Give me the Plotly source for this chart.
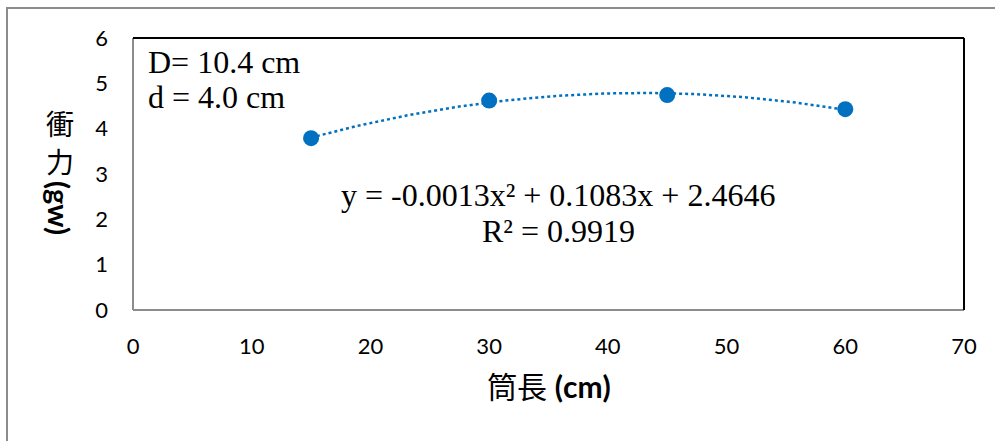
import numpy as np
import plotly.graph_objects as go

# Data
tube_length = [15, 30, 45, 60]          # 筒長 (cm)
force = [3.79, 4.62, 4.74, 4.43]        # 衝力 (gw)
x_ticks = [0, 10, 20, 30, 40, 50, 60, 70]
y_ticks = [0, 1, 2, 3, 4, 5, 6]

W, H = 995, 441
L, R, T, B = 133, 964, 38, 310  # plot area pixel box
pw, ph = R - L, B - T

def px(xp):
    return (xp - L) / pw

def py(yp):
    return (B - yp) / ph

BLUE = "#0070C0"
coef = np.polyfit(tube_length, force, 2)
xs = np.linspace(min(tube_length), max(tube_length), 120)
ys = np.polyval(coef, xs)

fig = go.Figure()
fig.add_trace(go.Scatter(x=xs, y=ys, mode="lines",
                         line=dict(color=BLUE, width=2.5, dash="dot"),
                         hoverinfo="skip", showlegend=False))
fig.add_trace(go.Scatter(x=tube_length, y=force, mode="markers",
                         marker=dict(color=BLUE, size=16),
                         showlegend=False))

tickfont = dict(family="Lato, Open Sans, sans-serif", size=22, color="#000")
fig.update_xaxes(range=[0, 70], tickvals=x_ticks, ticktext=[str(v) for v in x_ticks],
                 showgrid=False, zeroline=False, showline=False, ticks="",
                 tickfont=tickfont, ticklabelstandoff=21)
fig.update_yaxes(range=[0, 6], tickvals=y_ticks, ticktext=[str(v) for v in y_ticks],
                 showgrid=False, zeroline=False, showline=False, ticks="",
                 tickfont=tickfont, ticklabelstandoff=24)

shapes = [
    # outer chart border (top & left visible)
    dict(type="rect", xref="paper", yref="paper",
         x0=px(7), x1=px(1010), y0=py(460), y1=py(8),
         line=dict(color="#8c8c8c", width=2), layer="below"),
    # plot area borders
    dict(type="line", xref="paper", yref="paper", x0=0, x1=0, y0=0, y1=1,
         line=dict(color="#8c8c8c", width=2)),
    dict(type="line", xref="paper", yref="paper", x0=0, x1=1, y0=0, y1=0,
         line=dict(color="#8c8c8c", width=2)),
    dict(type="line", xref="paper", yref="paper", x0=0, x1=1, y0=1, y1=1,
         line=dict(color="#000", width=2)),
    dict(type="line", xref="paper", yref="paper", x0=1, x1=1, y0=0, y1=1,
         line=dict(color="#000", width=2)),
]

serif = dict(family="Liberation Serif, Times New Roman, serif", size=32, color="#000")
cjk = dict(family="Noto Sans CJK TC", size=28, color="#000")
annotations = [
    dict(text="D= 10.4 cm", x=px(146), y=py(62), xref="paper", yref="paper",
         xanchor="left", yanchor="middle", showarrow=False, font=serif),
    dict(text="d = 4.0 cm", x=px(146), y=py(97), xref="paper", yref="paper",
         xanchor="left", yanchor="middle", showarrow=False, font=serif),
    dict(text="y = -0.0013x² + 0.1083x + 2.4646", x=px(558), y=py(195),
         xref="paper", yref="paper", xanchor="center", yanchor="middle",
         showarrow=False, font=serif),
    dict(text="R² = 0.9919", x=px(558), y=py(230.5),
         xref="paper", yref="paper", xanchor="center", yanchor="middle",
         showarrow=False, font=serif),
    # y-axis title
    dict(text="衝", x=px(60), y=py(123), xref="paper", yref="paper",
         xanchor="center", yanchor="middle", showarrow=False, font=cjk),
    dict(text="力", x=px(60), y=py(161), xref="paper", yref="paper",
         xanchor="center", yanchor="middle", showarrow=False, font=cjk),
    dict(text="<b>(gw)</b>", x=px(60), y=py(208), xref="paper", yref="paper",
         xanchor="center", yanchor="middle", showarrow=False, textangle=90,
         font=dict(family="Lato, Open Sans, sans-serif", size=29, color="#000")),
    # x-axis title
    dict(text="筒長 <b>(cm)</b>", x=px(549), y=py(386), xref="paper", yref="paper",
         xanchor="center", yanchor="middle", showarrow=False,
         font=dict(family="Lato, Noto Sans CJK TC", size=30, color="#000")),
]

fig.update_layout(width=W, height=H,
                  margin=dict(l=L, r=W - R, t=T, b=H - B, pad=0),
                  paper_bgcolor="#fff", plot_bgcolor="#fff",
                  shapes=shapes, annotations=annotations, showlegend=False)

fig.write_html("out.html", config={"displayModeBar": False},
               post_script="document.body.style.margin='0';document.body.style.overflow='hidden';")
